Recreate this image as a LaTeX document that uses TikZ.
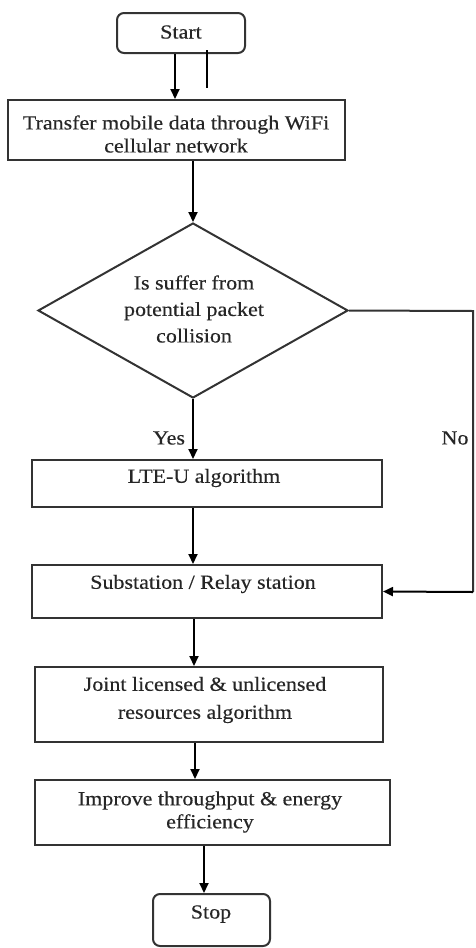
\documentclass[tikz,border=0pt]{standalone}
\usepackage{fontspec}
\setmainfont{Liberation Serif}[FakeStretch=1.1,FakeBold=0.4]
\usetikzlibrary{shapes.geometric,arrows.meta}
\begin{document}
\begin{tikzpicture}[x=1pt,y=-1pt,
  box/.style={draw=black!80,line width=2pt,rectangle,inner sep=0pt},
  term/.style={box,rounded corners=7pt},
  txt/.style={inner sep=0pt,align=center,text=black!85,font=\fontsize{20}{23}\selectfont},
  arr/.style={line width=2pt,-{Triangle[length=10pt,width=9pt]}},
  lbl/.style={inner sep=0pt,text=black!85,font=\fontsize{20}{23}\selectfont}]
\useasboundingbox (0,0) rectangle (475,948);
% shapes
\node[term,minimum width=128pt,minimum height=40pt] (start) at (181,33) {};
\node[box,minimum width=337pt,minimum height=60pt] (transfer) at (176.5,130) {};
\node[draw=black!80,line width=2pt,diamond,aspect=1.77,minimum width=310pt,minimum height=175pt,inner sep=0pt] (dec) at (193,310.5) {};
\node[box,minimum width=350pt,minimum height=47pt] (lte) at (207,483.5) {};
\node[box,minimum width=350pt,minimum height=53pt] (sub) at (207,591.5) {};
\node[box,minimum width=348pt,minimum height=75pt] (joint) at (209,704.5) {};
\node[box,minimum width=355pt,minimum height=65pt] (impr) at (212.5,812.5) {};
\node[term,minimum width=117pt,minimum height=52pt] (stop) at (211.5,920) {};
% texts
\node[txt] (startT) at (181,32) {Start};
\node[txt] (transferT) at (176,134) {Transfer mobile data through WiFi\\cellular network};
\node[txt,font=\fontsize{20}{26.5}\selectfont] (decT) at (194,309) {Is suffer from\\potential packet\\collision};
\node[txt] (lteT) at (204,478) {LTE-U algorithm};
\node[txt] (subT) at (203,584) {Substation / Relay station};
\node[txt,font=\fontsize{20}{28}\selectfont] (jointT) at (205,700) {Joint licensed \& unlicensed\\resources algorithm};
\node[txt] (imprT) at (210,812) {Improve throughput \& energy\\efficiency};
\node[txt] (stopT) at (211,914) {Stop};
% connectors
\coordinate (s1) at (207,50);
\coordinate (s2) at (207,88);
\coordinate (r1) at (473,311);
\coordinate (r2) at (473,592);
\draw[line width=2.4pt] (s1) -- (s2);
\draw[arr] (start.south -| 175,0) -- (transfer.north -| 175,0);
\draw[arr] (transfer.south -| dec.north) -- (dec.north);
\draw[arr] (dec.south) -- (lte.north -| dec.south);
\draw[arr] (lte.south -| 193,0) -- (sub.north -| 193,0);
\draw[arr] (sub.south -| 194,0) -- (joint.north -| 194,0);
\draw[arr] (joint.south -| 195,0) -- (impr.north -| 195,0);
\draw[arr] (impr.south -| 204,0) -- (stop.north -| 204,0);
\draw[line width=2pt,draw=black!80] (dec.east) -- (r1) -- (r2);
\draw[arr,line width=2pt] (r2) -- (sub.east);
\node[lbl] (yes) at (169,438) {Yes};
\node[lbl] (no) at (455,438) {No};
\end{tikzpicture}
\end{document}
